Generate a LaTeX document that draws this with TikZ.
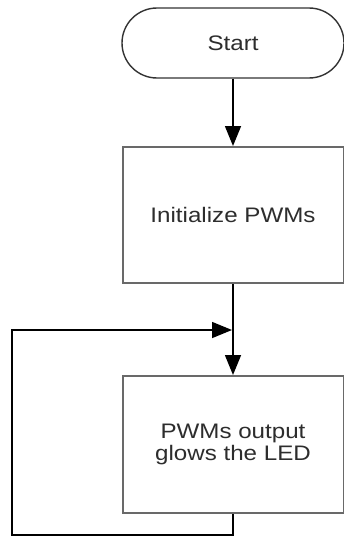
\documentclass[tikz,border=0pt]{standalone}
\usepackage{fontspec}
\setmainfont{Liberation Sans}
\newfontfamily\chartfont[FakeStretch=1.15]{Liberation Sans}
\usetikzlibrary{arrows.meta,shapes.misc}
\definecolor{boxline}{RGB}{105,105,105}
\definecolor{textgray}{RGB}{45,45,45}
\tikzset{
  chart/.style={font=\chartfont\fontsize{21}{22}\selectfont, text=textgray, align=center},
  term/.style={chart, rounded rectangle, draw=black!80, line width=1.4pt,
    minimum width=222pt, minimum height=70pt, inner sep=0pt},
  proc/.style={chart, rectangle, draw=boxline, line width=2pt,
    minimum width=221pt, inner sep=0pt},
  flow/.style={draw=black, line width=1.5pt, -{Triangle[length=20pt,width=16pt]}}
}
\begin{document}
\begin{tikzpicture}[x=1pt,y=-1pt]
  \useasboundingbox (0,0) rectangle (343,538);
  \fill[white] (0,0) rectangle (343,538);

  % flowchart blocks
  \node[term] (start) at (233,43) {Start};
  \node[proc, minimum height=136pt] (init) at (233,215) {Initialize PWMs};
  \node[proc, minimum height=137pt] (glow) at (233,444.5) {PWMs output\\glows the LED};

  % loop-back corners and join point
  \coordinate (join) at (233,330);
  \coordinate (loopbr) at (233,535);
  \coordinate (looptl) at (12,330);

  % connectors
  \draw[flow] (start) -- (init);
  \draw[flow] (init) -- (glow);
  \draw[flow, shorten >=1pt] (glow) -- (loopbr) -| (looptl) -- (join);
\end{tikzpicture}
\end{document}
